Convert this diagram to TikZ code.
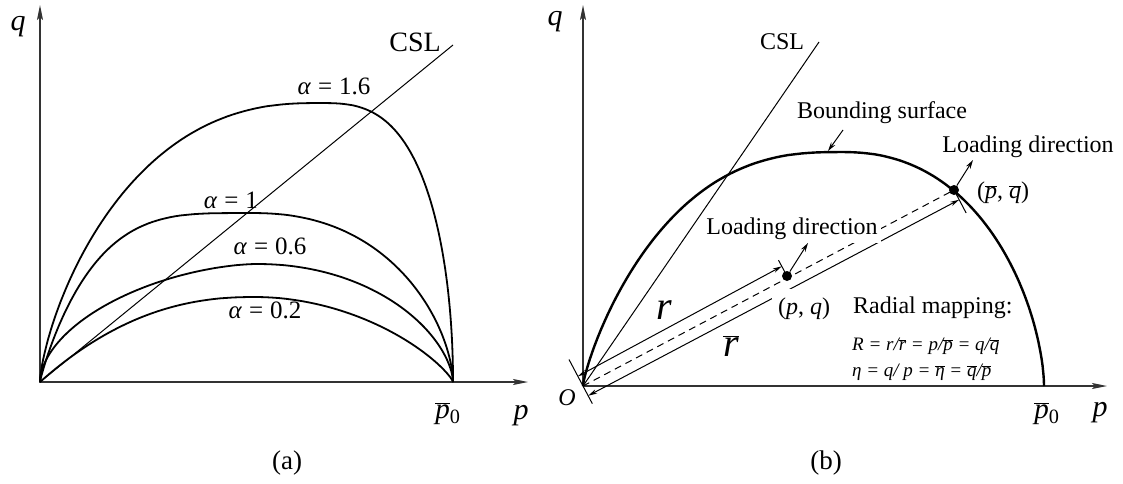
\documentclass[tikz,border=0pt]{standalone}
\usepackage{fontspec}
\setmainfont{Liberation Serif}
\usetikzlibrary{arrows.meta,calc}
\newcommand{\ob}[1]{\ensuremath{\overline{\mbox{#1}}}}
\begin{document}
\begin{tikzpicture}[x=1pt,y=-1pt,
  axis/.style={line width=1.3pt,black!80,-{Stealth[length=15pt,width=6pt,inset=3pt]}},
  fam/.style={line width=1.8pt,line join=round},
  bsurf/.style={line width=2.4pt,line join=round},
  thin/.style={line width=1pt},
  dimline/.style={line width=1pt,{Stealth[length=9pt,width=4.5pt]}-{Stealth[length=9pt,width=4.5pt]}},
  ldarrow/.style={line width=1pt,-{Stealth[length=9pt,width=5pt]}},
  dotn/.style={circle,fill=black,minimum size=10pt,inner sep=0pt},
  lbl/.style={font=\fontsize{24}{28}\selectfont,inner sep=0pt},
  albl/.style={font=\fontsize{25}{28}\selectfont,inner sep=0pt},
  axlbl/.style={font=\fontsize{30}{34}\selectfont\itshape,inner sep=0pt},
  biglbl/.style={font=\fontsize{40}{44}\selectfont\itshape,inner sep=0pt},
  eqlbl/.style={font=\fontsize{19}{22}\selectfont\itshape,inner sep=0pt,anchor=west}]
\useasboundingbox (0,0) rectangle (1123,483);

% ---------------- panel (a) ----------------
\coordinate (Oa) at (40,382);
\coordinate (Oay) at (40,5);
\coordinate (Oax) at (528,382);
\coordinate (P0a) at (453,382);
\coordinate (csla) at (453,45);
\draw[axis] (Oa) -- (Oay);
\draw[axis] (Oa) -- (Oax);
\draw[thin] (Oa) -- (csla);
% alpha = 1.6
\draw[fam] (Oa)
  -- plot[domain=0.5:89.5,samples=80,variable=\t] ({318-278*pow(cos(\t),2/2.4)},{382-279*pow(sin(\t),2*0.7)})
  -- plot[domain=89.5:0.5,samples=80,variable=\t] ({318+135*pow(cos(\t),2/3)},{382-279*pow(sin(\t),2*0.5)})
  -- (P0a);
% alpha = 1
\draw[fam] (Oa)
  -- plot[domain=0.5:89.5,samples=80,variable=\t] ({250-210*pow(cos(\t),2/3.7)},{382-169*pow(sin(\t),2*0.9)})
  -- plot[domain=89.5:0.5,samples=80,variable=\t] ({250+203*pow(cos(\t),2/2.3)},{382-169*pow(sin(\t),2*0.6)})
  -- (P0a);
% alpha = 0.6
\draw[fam] (Oa)
  -- plot[domain=0.5:89.5,samples=80,variable=\t] ({257-217*pow(cos(\t),2/1.7)},{382-118*pow(sin(\t),2*0.55)})
  -- plot[domain=89.5:0.5,samples=80,variable=\t] ({257+196*pow(cos(\t),2/2.05)},{382-118*pow(sin(\t),2*0.6)})
  -- (P0a);
% alpha = 0.2
\draw[fam] (Oa)
  -- plot[domain=0.5:89.5,samples=80,variable=\t] ({255-215*pow(cos(\t),2/2.25)},{382-85*pow(sin(\t),2*1)})
  -- plot[domain=89.5:0.5,samples=80,variable=\t] ({255+198*pow(cos(\t),2/1.95)},{382-85*pow(sin(\t),2*0.8)})
  -- (P0a);

\node[axlbl] (qa) at (18,27) {q};
\node[axlbl] (pa) at (521,416) {p};
\node[lbl,font=\fontsize{29}{32}\selectfont] (p0a) at (448,414) {\ob{\textit{p}}\textsubscript{0}};
\node[lbl,font=\fontsize{28}{32}\selectfont] (csllabela) at (415,42) {CSL};
\node[albl] (a16) at (334,86) {\textit{α}\;=\;1.6};
\node[albl] (a10) at (231,200) {\textit{α}\;=\;1};
\node[albl] (a06) at (270,246) {\textit{α}\;=\;0.6};
\node[albl] (a02) at (265,310) {\textit{α}\;=\;0.2};
\node[lbl,font=\fontsize{27}{30}\selectfont] (capa) at (287,463) {(a)};

% ---------------- panel (b) ----------------
\coordinate (Ob) at (583,386);
\coordinate (Oby) at (583,5);
\coordinate (Obx) at (1107,386);
\coordinate (P0b) at (1044,386);
\coordinate (cslb) at (819,42);
\draw[axis] (Ob) -- (Oby);
\draw[axis] (Ob) -- (Obx);
\draw[thin] (Ob) -- (cslb);
\draw[bsurf] (Ob)
  -- plot[domain=0.5:89.5,samples=80,variable=\t] ({840-257*pow(cos(\t),2/2.55)},{386-234*pow(sin(\t),2*0.8)})
  -- plot[domain=89.5:0.5,samples=80,variable=\t] ({840+204*pow(cos(\t),2/2.3)},{386-234*pow(sin(\t),2*0.6)})
  -- (P0b);

\node[dotn] (pq) at (787,276) {};
\node[dotn] (pbqb) at (954,190) {};

% radial (dashed) line
\draw[thin,dash pattern=on 7pt off 5pt] (Ob) -- (pbqb.center);

% witness ticks
\coordinate (t0a) at ($(Ob)!30pt!90:(pbqb)$);
\coordinate (t0b) at ($(Ob)!20pt!-90:(pbqb)$);
\coordinate (t1a) at ($(pq)!3pt!-90:(Ob)$);
\coordinate (t1b) at ($(pq)!18pt!-90:(Ob)$);
\coordinate (t2a) at ($(pbqb)!3pt!90:(Ob)$);
\coordinate (t2b) at ($(pbqb)!26pt!90:(Ob)$);
\draw[thin] (t0a) -- (t0b);
\draw[thin] (t1a) -- (t1b);
\draw[thin] (t2a) -- (t2b);

% dimension lines r and r-bar
\coordinate (ra) at ($(Ob)!11pt!90:(pbqb)$);
\coordinate (rb) at ($(pq)!11pt!-90:(Ob)$);
\coordinate (rba) at ($(Ob)!11pt!-90:(pbqb)$);
\coordinate (rbb) at ($(pbqb)!11pt!90:(Ob)$);
\draw[dimline] (ra) -- (rb);
\draw[dimline] (rba) -- (rbb);

% labels
\node[axlbl] (qb) at (555,22) {q};
\node[axlbl] (pb) at (1100,413) {p};
\node[lbl,font=\fontsize{29}{32}\selectfont] (p0b) at (1047,414) {\ob{\textit{p}}\textsubscript{0}};
\node[lbl,font=\fontsize{24}{28}\selectfont\itshape] (Olbl) at (567,398) {O};
\node[lbl] (csllabelb) at (782,42) {CSL};
\node[lbl] (bslbl) at (882,113) {Bounding surface};
\node[lbl] (ld1) at (1028,147) {Loading direction};
\node[lbl,fill=white,inner xsep=3pt,inner ysep=3pt] (ld2) at (792,229) {Loading direction};
\node[lbl,fill=white,inner xsep=6pt,inner ysep=9pt] (pqlbl) at (804,309) {(\textit{p}, \textit{q})};
\node[lbl] (pbqblbl) at (1003,193) {(\ob{\textit{p}}, \ob{\textit{q}})};
\node[biglbl] (rlbl) at (664,310) {r};
\node[biglbl] (rblbl) at (731,346) {\ob{\textit{r}}};
\node[lbl,anchor=west] (radial) at (853,308) {Radial mapping:};
\node[eqlbl] (eq1) at (852,346) {R = r/\ob{\textit{r}} = p/\ob{\textit{p}} = q/\ob{\textit{q}}};
\node[eqlbl] (eq2) at (852,372) {η = q/ p = \ob{\textit{η}} = \ob{\textit{q}}/\ob{\textit{p}}};
\node[lbl,font=\fontsize{27}{30}\selectfont] (capb) at (826,463) {(b)};

% arrows
\coordinate (bsa) at (843,130);
\coordinate (bsb) at (828,151);
\draw[ldarrow] (bsa) -- (bsb);
\coordinate (ld1end) at (973,160);
\coordinate (ld2end) at (808,243);
\draw[ldarrow] (pbqb) -- (ld1end);
\draw[ldarrow] (pq) -- (ld2end);
\end{tikzpicture}
\end{document}
